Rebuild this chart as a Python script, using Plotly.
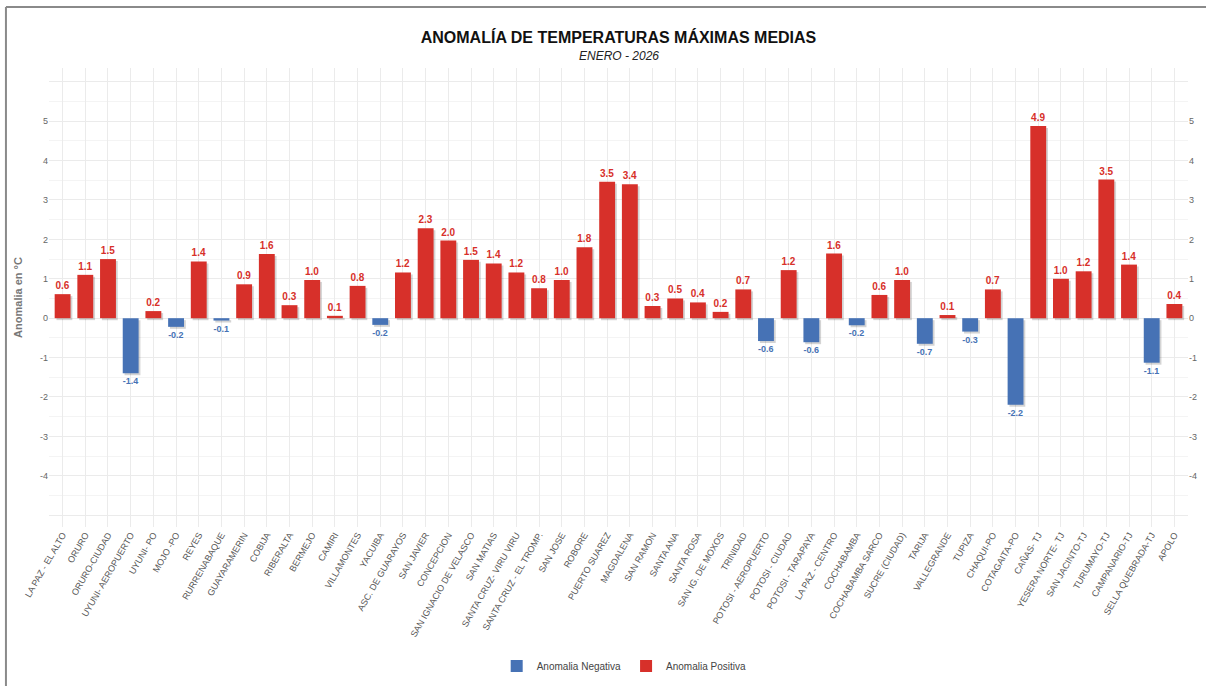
import plotly.graph_objects as go

estaciones = [
    "LA PAZ - EL ALTO", "ORURO", "ORURO-CIUDAD", "UYUNI- AEROPUERTO", "UYUNI- PO",
    "MOJO -PO", "REYES", "RURRENABAQUE", "GUAYARAMERIN", "COBIJA",
    "RIBERALTA", "BERMEJO", "CAMIRI", "VILLAMONTES", "YACUIBA",
    "ASC. DE GUARAYOS", "SAN JAVIER", "CONCEPCION", "SAN IGNACIO DE VELASCO", "SAN MATIAS",
    "SANTA CRUZ- VIRU VIRU", "SANTA CRUZ - EL TROMP.", "SAN JOSE", "ROBORE", "PUERTO SUAREZ",
    "MAGDALENA", "SAN RAMON", "SANTA ANA", "SANTA ROSA", "SAN IG. DE MOXOS",
    "TRINIDAD", "POTOSI - AEROPUERTO", "POTOSI - CIUDAD", "POTOSI - TARAPAYA", "LA PAZ - CENTRO",
    "COCHABAMBA", "COCHABAMBA SARCO", "SUCRE (CIUDAD)", "TARIJA", "VALLEGRANDE",
    "TUPIZA", "CHAQUI-PO", "COTAGAITA-PO", "CAÑAS- TJ", "YESERA NORTE- TJ",
    "SAN JACINTO-TJ", "TURUMAYO-TJ", "CAMPANARIO-TJ", "SELLA QUEBRADA-TJ", "APOLO",
]

anomalias = [
    0.61, 1.10, 1.50, -1.40, 0.18,
    -0.22, 1.44, -0.06, 0.86, 1.63,
    0.33, 0.97, 0.06, 0.82, -0.17,
    1.16, 2.28, 1.97, 1.48, 1.39,
    1.16, 0.76, 0.97, 1.80, 3.46,
    3.40, 0.31, 0.50, 0.40, 0.16,
    0.73, -0.58, 1.22, -0.61, 1.64,
    -0.18, 0.59, 0.97, -0.65, 0.08,
    -0.34, 0.73, -2.20, 4.88, 1.00,
    1.19, 3.52, 1.36, -1.13, 0.36,
]

y_ticks = list(range(-5, 7))
y_tick_text = [str(v) if -4 <= v <= 5 else "" for v in y_ticks]

ROJO = "#D7302A"
AZUL = "#4672B5"
FONT = "Arial, Liberation Sans, sans-serif"

negativos = [v if v < 0 else None for v in anomalias]
positivos = [v if v >= 0 else None for v in anomalias]

fig = go.Figure()

# sombra de las barras
fig.add_trace(go.Bar(
    x=estaciones, y=anomalias, base=-0.05, width=0.7, offset=-0.27,
    marker=dict(color="rgba(0,0,0,0.17)", line=dict(width=0)),
    showlegend=False, hoverinfo="skip",
))

fig.add_trace(go.Bar(
    x=estaciones, y=negativos, name="Anomalia Negativa",
    width=0.7, offset=-0.35,
    marker=dict(color=AZUL, line=dict(width=0)),
    texttemplate="%{y:.1f}", textposition="outside",
    textfont=dict(color=AZUL, size=10, family=FONT, weight="bold"),
    cliponaxis=False,
))

fig.add_trace(go.Bar(
    x=estaciones, y=positivos, name="Anomalia Positiva",
    width=0.7, offset=-0.35,
    marker=dict(color=ROJO, line=dict(width=0)),
    texttemplate="%{y:.1f}", textposition="outside",
    textfont=dict(color=ROJO, size=10, family=FONT, weight="bold"),
    cliponaxis=False,
))

# eje derecho
fig.add_trace(go.Scatter(
    x=estaciones[:1], y=[0], yaxis="y2", mode="markers",
    marker=dict(opacity=0), showlegend=False, hoverinfo="skip",
))

fig.update_layout(
    width=1206, height=686,
    paper_bgcolor="white", plot_bgcolor="white",
    font=dict(family=FONT, color="#555555"),
    barmode="overlay",
    margin=dict(l=49, r=18, t=68, b=159, autoexpand=False),
    title=dict(
        text="<b>ANOMALÍA DE TEMPERATURAS MÁXIMAS MEDIAS</b>",
        x=0.5, xref="paper", xanchor="center",
        y=1 - 37 / 686, yanchor="middle",
        font=dict(size=16, color="#111111", family=FONT),
    ),
    annotations=[dict(
        text="<i>ENERO - 2026</i>", xref="paper", yref="paper",
        x=0.5, y=1.026, xanchor="center", yanchor="middle",
        showarrow=False, font=dict(size=12, color="#222222", family=FONT),
    )],
    legend=dict(
        orientation="h", x=0.505, xanchor="center", y=-0.303, yanchor="middle",
        font=dict(size=10, color="#444444", family=FONT),
    ),
    xaxis=dict(
        type="category", tickangle=-60, automargin=False,
        tickfont=dict(size=9, color="#555555"),
        showgrid=True, gridcolor="#EBEBEB", gridwidth=1,
        range=[-0.6, len(estaciones) - 0.4],
        showline=False, zeroline=False, ticks="",
    ),
    yaxis=dict(
        range=[-5.3, 6.35], tickmode="array", tickvals=y_ticks, ticktext=y_tick_text,
        tickfont=dict(size=9, color="#666666"), automargin=False,
        showgrid=True, gridcolor="#EBEBEB", gridwidth=1,
        minor=dict(dtick=0.5, tick0=0, showgrid=True, gridcolor="#F4F4F4", gridwidth=1),
        zeroline=False, showline=False, ticks="",
        title=dict(text="<b>Anomalia en °C</b>", font=dict(size=11, color="#777777"), standoff=15),
    ),
    yaxis2=dict(
        overlaying="y", side="right", matches="y", automargin=False,
        tickmode="array", tickvals=y_ticks, ticktext=y_tick_text,
        tickfont=dict(size=9, color="#666666"),
        showgrid=False, zeroline=False, showline=False, ticks="",
    ),
    shapes=[
        dict(type="line", xref="paper", yref="paper", x0=-0.0378, x1=1.1,
             y0=1 + 61 / 459, y1=1 + 61 / 459, line=dict(color="#8A8A8A", width=2)),
        dict(type="line", xref="paper", yref="paper", x0=-0.0378, x1=-0.0378,
             y0=-0.5, y1=1 + 61 / 459, line=dict(color="#8A8A8A", width=2)),
    ],
)

fig.write_html(
    "out.html",
    config={"displayModeBar": False},
    post_script="document.body.style.margin = '0';",
)
